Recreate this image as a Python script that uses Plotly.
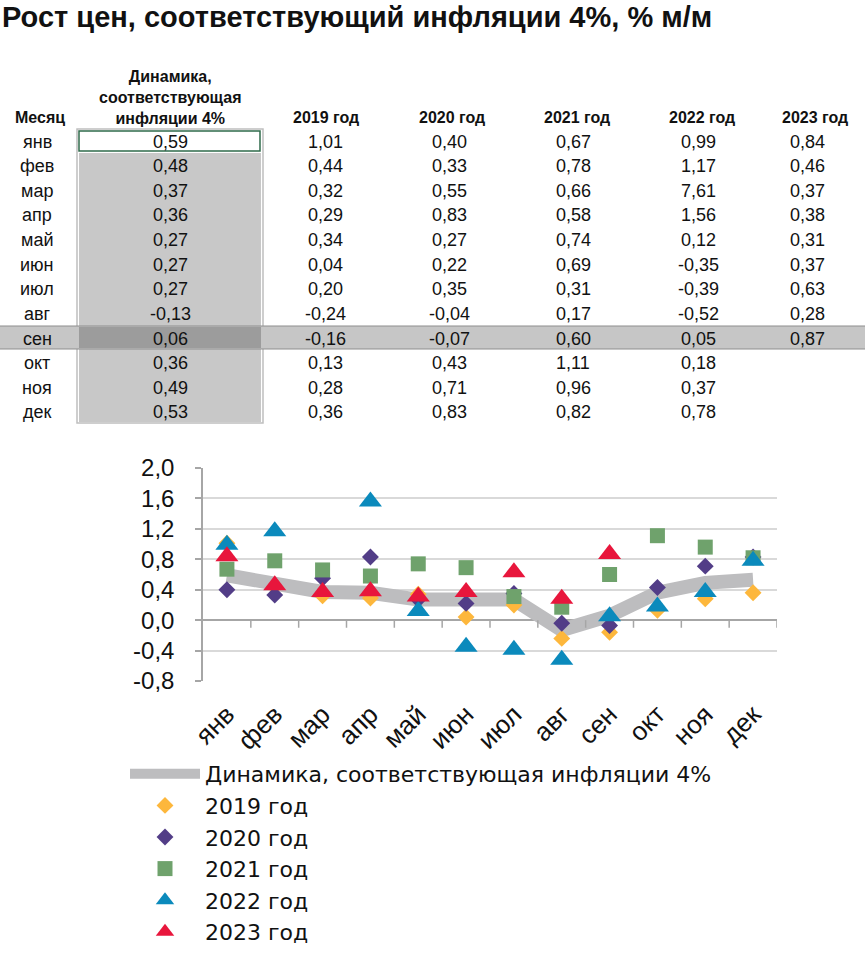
import plotly.graph_objects as go

months = ['янв', 'фев', 'мар', 'апр', 'май', 'июн', 'июл', 'авг', 'сен', 'окт', 'ноя', 'дек']
dyn4 = [0.59, 0.48, 0.37, 0.36, 0.27, 0.27, 0.27, -0.13, 0.06, 0.36, 0.49, 0.53]
y2019 = [1.01, 0.44, 0.32, 0.29, 0.34, 0.04, 0.20, -0.24, -0.16, 0.13, 0.28, 0.36]
y2020 = [0.40, 0.33, 0.55, 0.83, 0.27, 0.22, 0.35, -0.04, -0.07, 0.43, 0.71, 0.83]
y2021 = [0.67, 0.78, 0.66, 0.58, 0.74, 0.69, 0.31, 0.17, 0.60, 1.11, 0.96, 0.82]
y2022 = [0.99, 1.17, 7.61, 1.56, 0.12, -0.35, -0.39, -0.52, 0.05, 0.18, 0.37, 0.78]
y2023 = [0.84, 0.46, 0.37, 0.38, 0.31, 0.37, 0.63, 0.28, 0.87, None, None, None]

dyn_name = 'Динамика, соответствующая инфляции 4%'
year_names = ['2019 год', '2020 год', '2021 год', '2022 год', '2023 год']
year_series = [y2019, y2020, y2021, y2022, y2023]
year_colors = ['#FDB73C', '#523D87', '#6FA26C', '#0B8ABC', '#E8163C']
year_symbols = ['diamond', 'diamond', 'square', 'triangle-up', 'triangle-up']
year_sizes = [13, 13, 15, 20, 20]

ytick_vals = [-0.8, -0.4, 0.0, 0.4, 0.8, 1.2, 1.6, 2.0]
ytick_text = [f'{v:.1f}'.replace('.', ',') for v in ytick_vals]

W, H = 865, 964
L, R, T, B = 203, 88, 468, 283
PW, PH = W - L - R, H - T - B


def px(x):
    return (x - L) / PW


def py(y):
    return (H - B - y) / PH


def fmt(v):
    return '' if v is None else f'{v:.2f}'.replace('.', ',')


FONT = 'Liberation Sans, Arial, sans-serif'

fig = go.Figure()
fig.add_trace(go.Scatter(
    x=months, y=dyn4, mode='lines', name=dyn_name,
    line=dict(color='#BDBDBF', width=14), cliponaxis=True))
for name, ser, col, sym, sz in zip(year_names, year_series, year_colors, year_symbols, year_sizes):
    fig.add_trace(go.Scatter(
        x=months, y=ser, mode='markers', name=name,
        marker=dict(color=col, symbol=sym, size=sz, line=dict(width=0)),
        cliponaxis=True))

shapes = []
# x-axis tick marks at category boundaries along zero line
for i in range(len(months)):
    shapes.append(dict(type='line', xref='x', yref='y', x0=i + 0.5, x1=i + 0.5,
                       y0=0, y1=-0.1, line=dict(color='#A6A6A6', width=1.5)))


def rect(x0, y0, x1, y1, fill, line=None, lw=0):
    return dict(type='rect', xref='paper', yref='paper', layer='below',
                x0=px(x0), x1=px(x1), y0=py(y0), y1=py(y1),
                fillcolor=fill, line=dict(color=line or fill, width=lw))


shapes.append(rect(77, 129, 263, 423, 'white', '#BFBFBF', 1.5))
shapes.append(rect(79, 153, 261, 422, '#C8C8C8'))
shapes.append(rect(0, 326, 865, 349, '#C6C6C6'))
shapes.append(rect(79, 327, 261, 348, '#9C9C9C'))
for yy in (326, 349):
    shapes.append(dict(type='line', xref='paper', yref='paper', layer='below',
                       x0=px(0), x1=px(865), y0=py(yy), y1=py(yy),
                       line=dict(color='#8E8E8E', width=1.2)))
shapes.append(rect(79, 131, 260, 151, 'white', '#2F6B4B', 1.5))


def note(text, x, y, font, xanchor='center'):
    return dict(text=text, x=px(x), y=py(y), xref='paper', yref='paper',
                xanchor=xanchor, yanchor='middle', showarrow=False, font=font)


ann = []
ann.append(note('<b>Рост цен, соответствующий инфляции 4%, % м/м</b>', 0, 17,
                dict(family=FONT, size=29, color='#111111'), xanchor='left'))
hdr_font = dict(family=FONT, size=16, color='#111111')
ann.append(note('<b>Месяц</b>', 40, 118, hdr_font))
ann.append(note('<b>Динамика,<br>соответствующая<br>инфляции 4%</b>', 170, 97, hdr_font))
hdr_x = [326, 452, 577, 702, 815]
for name, hx in zip(year_names, hdr_x):
    ann.append(note(f'<b>{name}</b>', hx, 118, hdr_font))

row_font = dict(family=FONT, size=18, color='#111111')
col_x = [170, 325, 449, 573, 698, 808]
cols = [dyn4] + year_series
for i, m in enumerate(months):
    yy = 141.7 + i * 24.6
    ann.append(note(m, 37, yy, row_font))
    for cx, ser in zip(col_x, cols):
        t = fmt(ser[i])
        if t:
            ann.append(note(t, cx, yy, row_font))

fig.update_layout(
    width=W, height=H,
    margin=dict(l=L, r=R, t=T, b=B, autoexpand=False),
    paper_bgcolor='white', plot_bgcolor='white',
    font=dict(family=FONT, color='#111111'),
    showlegend=True,
    legend=dict(orientation='v', x=px(125), y=py(753), xanchor='left', yanchor='top',
                font=dict(family='DejaVu Sans, ' + FONT, size=22, color='#111111'),
                itemwidth=70, bgcolor='rgba(0,0,0,0)', tracegroupgap=0),
    shapes=shapes,
    annotations=ann,
)
fig.update_xaxes(type='category', categoryorder='array', categoryarray=months,
                 range=[-0.5, 11.5], showgrid=False, showline=False, ticks='',
                 tickangle=-45, tickfont=dict(family=FONT, size=26, color='#111111'),
                 ticklabelstandoff=12, zeroline=False)
fig.update_yaxes(range=[-0.8, 2.0], tickvals=ytick_vals, ticktext=ytick_text,
                 showgrid=True, gridcolor='#D9D9D9', gridwidth=1.5,
                 zeroline=True, zerolinecolor='#A6A6A6', zerolinewidth=1.5,
                 showline=True, linecolor='#A6A6A6', linewidth=1.5,
                 ticks='outside', ticklen=6, tickcolor='#A6A6A6', tickwidth=1.5,
                 tickfont=dict(family=FONT, size=24, color='#111111'),
                 ticklabelstandoff=16)

fig.write_html('out.html', config={'displayModeBar': False},
               post_script="document.body.style.margin='0px';")
